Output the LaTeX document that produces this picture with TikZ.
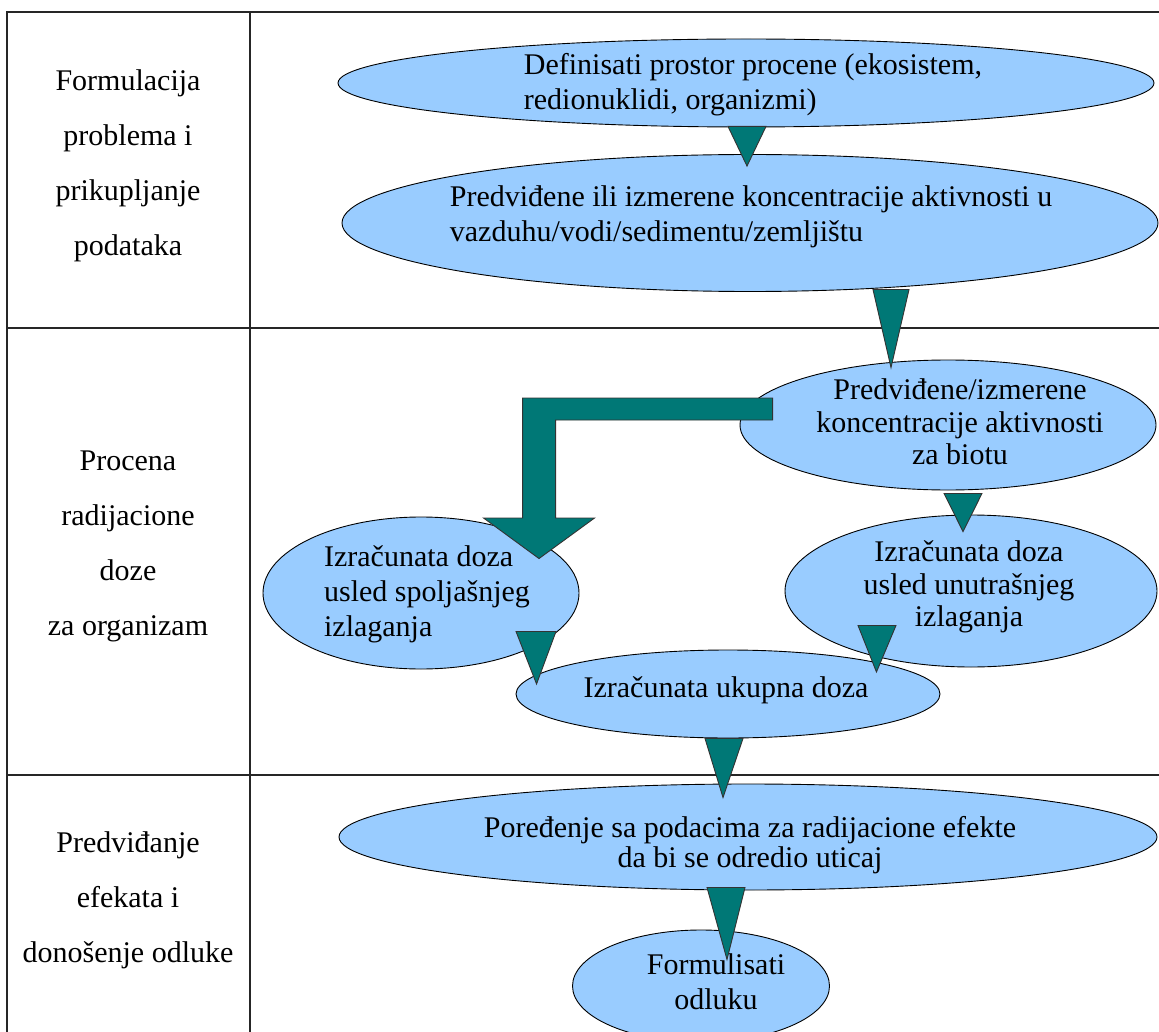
\documentclass[tikz,border=0pt]{standalone}
\usepackage{fontspec}
\setmainfont{Liberation Serif}
\usetikzlibrary{shapes.geometric,calc}
\definecolor{ellblue}{HTML}{99CCFF}
\definecolor{arrteal}{RGB}{0,120,118}
\newcommand\blkarrow[3]{\filldraw[blk] ($(#1)+(-#3,0)$) -- ($(#1)+(#3,0)$) -- (#2) -- cycle;}
\begin{document}
\begin{tikzpicture}[x=1pt,y=-1pt,
  ell/.style={ellipse, draw=black, line width=0.9pt, fill=ellblue, inner sep=0pt},
  blk/.style={fill=arrteal, draw=black!80, line width=0.9pt, line join=miter},
  grid/.style={draw=black!85, line width=2pt},
  txt/.style={font=\fontsize{30}{35}\selectfont, inner sep=0pt},
  tighttxt/.style={font=\fontsize{30}{32.5}\selectfont, inner sep=0pt},
  lefttxt/.style={font=\fontsize{30}{55}\selectfont, inner sep=0pt, align=center}]
\useasboundingbox (0,0) rectangle (1159,1032);
% table
\draw[grid] (7,1032) -- (7,12) -- (1159,12);
\draw[grid] (250,12) -- (250,1032);
\draw[grid] (7,328) -- (1159,328);
\draw[grid] (7,775) -- (1159,775);
% left column
\node[lefttxt] (c1) at (128,166) {Formulacija\\problema i\\prikupljanje\\podataka};
\node[lefttxt] (c2) at (128,546) {Procena\\radijacione\\doze\\za organizam};
\node[lefttxt] (c3) at (128,900) {Predviđanje\\efekata i\\donošenje odluke};
% ellipses
\node[ell, minimum width=816, minimum height=88] (e1) at (746,83) {};
\node[ell, minimum width=816, minimum height=137] (e2) at (750,223) {};
\node[ell, minimum width=416, minimum height=130] (e3) at (948,425) {};
\node[ell, minimum width=316, minimum height=152] (e4) at (421,593) {};
\node[ell, minimum width=372, minimum height=152] (e5) at (971,591) {};
\node[ell, minimum width=424, minimum height=88] (e6) at (728,694) {};
\node[ell, minimum width=818, minimum height=106] (e7) at (748,837) {};
\node[ell, minimum width=257, minimum height=112] (e8) at (701,986) {};
% texts
\node[txt, align=left] (t1) at (753,85) {Definisati prostor procene (ekosistem,\\redionuklidi, organizmi)};
\node[txt, align=left] (t2) at (751,217) {Predviđene ili izmerene koncentracije aktivnosti u\\vazduhu/vodi/sedimentu/zemljištu};
\node[tighttxt, align=center] (t3) at (960,422) {Predviđene/izmerene\\koncentracije aktivnosti\\za biotu};
\node[txt, align=left] (t4) at (427,594) {Izračunata doza\\usled spoljašnjeg\\izlaganja};
\node[tighttxt, align=center] (t5) at (969,587) {Izračunata doza\\usled unutrašnjeg\\izlaganja};
\node[txt] (t6) at (726,690) {Izračunata ukupna doza};
\node[font=\fontsize{30}{30}\selectfont, inner sep=0pt, align=center] (t7) at (750,845) {Poređenje sa podacima za radijacione efekte\\da bi se odredio uticaj};
\node[txt, align=center] (t8) at (716,982) {Formulisati\\odluku};
% block arrows
\coordinate (a1s) at ($(e1.south)+(1,-1)$);
\coordinate (a1t) at ($(e2.north)+(-3,12)$);
\blkarrow{a1s}{a1t}{19}
\coordinate (a2s) at ($(e3.north)+(-57,-70)$);
\coordinate (a2t) at ($(e3.north)+(-57,8)$);
\blkarrow{a2s}{a2t}{18}
\coordinate (a3s) at ($(e3.west)+(33,-27)$);
\coordinate (a3t) at ($(e4.north)+(118,42)$);
\filldraw[blk] (a3s) -- ($(a3s)+(-250,0)$) -- ($(a3s)+(-250,120)$) -- ($(a3s)+(-289,120)$)
  -- (a3t) -- ($(a3s)+(-178,120)$) -- ($(a3s)+(-217,120)$) -- ($(a3s)+(-217,22)$)
  -- ($(a3s)+(0,22)$) -- cycle;
\coordinate (a4s) at ($(e4.south)+(115,-38)$);
\coordinate (a4t) at ($(e6.west)+(21,-10)$);
\blkarrow{a4s}{a4t}{20}
\coordinate (a5s) at ($(e3.south)+(15,3)$);
\coordinate (a5t) at ($(e5.north)+(-8,17)$);
\blkarrow{a5s}{a5t}{19}
\coordinate (a6s) at ($(e5.south)+(-94,-42)$);
\coordinate (a6t) at ($(e6.east)+(-64,-22)$);
\blkarrow{a6s}{a6t}{19}
\coordinate (a7s) at ($(e6.south)+(-4,0)$);
\coordinate (a7t) at ($(e7.north)+(-25,14)$);
\blkarrow{a7s}{a7t}{19}
\coordinate (a8s) at ($(e7.south)+(-22,-3)$);
\coordinate (a8t) at ($(e8.north)+(26,30)$);
\blkarrow{a8s}{a8t}{19}
\end{tikzpicture}
\end{document}
